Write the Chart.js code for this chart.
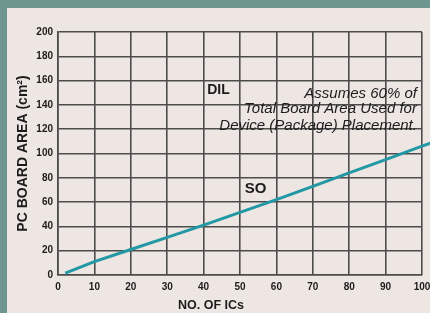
<!DOCTYPE html>
<html>
<head>
<meta charset="utf-8">
<script src="https://cdn.jsdelivr.net/npm/chart.js@4"></script>
<style>
html,body{margin:0;padding:0;background:#ebe5e1;}
#wrap{width:430px;height:313px;position:relative;}
</style>
</head>
<body>
<div id="wrap"><canvas id="c" width="430" height="313"></canvas></div>
<script>
// Data
const icCounts   = [2, 10, 20, 30, 40, 50, 60, 70, 80, 90, 100, 102.3];
const boardArea  = [1.5, 11, 21, 31, 41, 51.5, 62, 73, 84, 95, 106, 108.5];
const xTickLabels = ['0','10','20','30','40','50','60','70','80','90','100'];
const yTickLabels = ['0','20','40','60','80','100','120','140','160','180','200'];
const noteLines = ['Assumes 60% of', 'Total Board Area Used for', 'Device (Package) Placement.'];
const curveLabels = ['DIL', 'SO'];

const points = icCounts.map((x, i) => ({x: x, y: boardArea[i]}));

const bgPlugin = {
  id: 'bg',
  beforeDraw(chart) {
    const ctx = chart.ctx;
    ctx.save();
    ctx.fillStyle = '#6f958f';
    ctx.fillRect(0, 0, chart.width, chart.height);
    ctx.fillStyle = '#ede6e2';
    ctx.fillRect(7, 8, chart.width - 7, chart.height - 8);
    ctx.restore();
  }
};

const textPlugin = {
  id: 'notes',
  afterDraw(chart) {
    const ctx = chart.ctx;
    const xs = chart.scales.x, ys = chart.scales.y;
    ctx.save();
    ctx.fillStyle = '#1c1c1c';
    ctx.textBaseline = 'middle';
    // DIL label
    ctx.font = 'bold 14px "Liberation Sans", Arial, sans-serif';
    ctx.textAlign = 'left';
    ctx.fillText(curveLabels[0], xs.getPixelForValue(41), ys.getPixelForValue(152));
    // SO label
    ctx.font = 'bold 15px "Liberation Sans", Arial, sans-serif';
    ctx.fillText(curveLabels[1], xs.getPixelForValue(51.3), ys.getPixelForValue(70.5));
    // note
    ctx.font = 'italic 15px "Liberation Sans", Arial, sans-serif';
    ctx.textAlign = 'right';
    const nx = xs.getPixelForValue(98.6);
    const ny = [149.5, 137, 123];
    noteLines.forEach((t, i) => ctx.fillText(t, nx, ys.getPixelForValue(ny[i])));
    ctx.restore();
  }
};

new Chart(document.getElementById('c'), {
  type: 'scatter',
  data: {
    datasets: [{
      data: points,
      showLine: true,
      borderColor: '#2198a4',
      backgroundColor: '#2198a4',
      borderWidth: 3,
      pointRadius: 0,
      tension: 0,
      clip: false
    }]
  },
  options: {
    responsive: false,
    animation: false,
    layout: { padding: { top: 32, right: 8, left: 0, bottom: 0 } },
    plugins: {
      legend: { display: false },
      tooltip: { enabled: false },
      title: {
        display: true,
        position: 'bottom',
        text: 'NO. OF ICs',
        color: '#1c1c1c',
        font: { family: '"Liberation Sans", Arial, sans-serif', size: 12.5, weight: 'bold' },
        padding: { top: 0, bottom: 0 }
      }
    },
    scales: {
      x: {
        type: 'linear',
        afterDataLimits(s) { s.min = 0; s.max = 100; },
        afterFit(s) { s.height = 23; s.paddingRight = 0; s.paddingLeft = 0; },
        afterBuildTicks(s) { s.ticks = xTickLabels.map(v => ({value: Number(v)})); },
        ticks: {
          color: '#1c1c1c',
          padding: 6,
          font: { family: '"Liberation Sans", Arial, sans-serif', size: 10, weight: 'bold' },
          callback: (v, i) => xTickLabels[i]
        },
        grid: { color: '#4c4c4c', lineWidth: 1.6, drawTicks: false },
        border: { color: '#4c4c4c', width: 1.6 }
      },
      y: {
        min: 0, max: 200,
        afterFit(s) { s.width = 58; s.paddingTop = 0; s.paddingBottom = 0; },
        afterBuildTicks(s) { s.ticks = yTickLabels.map(v => ({value: Number(v)})); },
        ticks: {
          color: '#1c1c1c',
          padding: 5,
          font: { family: '"Liberation Sans", Arial, sans-serif', size: 10, weight: 'bold' },
          callback: (v, i) => yTickLabels[i]
        },
        grid: { color: '#4c4c4c', lineWidth: 1.6, drawTicks: false },
        border: { color: '#4c4c4c', width: 1.6 },
        title: {
          display: true,
          text: 'PC BOARD AREA (cm²)',
          color: '#1c1c1c',
          font: { family: '"Liberation Sans", Arial, sans-serif', size: 14, weight: 'bold' },
          padding: { top: 15, bottom: 0 }
        }
      }
    }
  },
  plugins: [bgPlugin, textPlugin]
});
</script>
</body>
</html>
